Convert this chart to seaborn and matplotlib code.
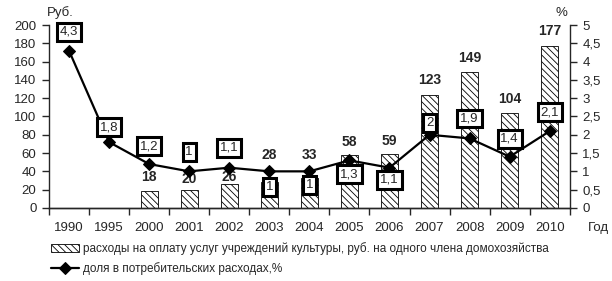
import matplotlib
matplotlib.use("Agg")
import matplotlib.pyplot as plt
import numpy as np
import pandas as pd
import seaborn as sns

years = ["1990", "1995", "2000", "2001", "2002", "2003", "2004",
         "2005", "2006", "2007", "2008", "2009", "2010"]
spend = [np.nan, np.nan, 18, 20, 26, 28, 33, 58, 59, 123, 149, 104, 177]
share = [4.3, 1.8, 1.2, 1.0, 1.1, 1.0, 1.0, 1.3, 1.1, 2.0, 1.9, 1.4, 2.1]
share_txt = ["4,3", "1,8", "1,2", "1", "1,1", "1", "1", "1,3", "1,1",
             "2", "1,9", "1,4", "2,1"]

bar_name = "расходы на оплату услуг учреждений культуры, руб. на одного члена домохозяйства"
line_name = "доля в потребительских расходах,%"

# label offsets in pixels (up +, down -)
lab_dy = [19, 15, 18, 19, 20, -16, -14, -14, -12, 12, 20, 18, 19]
bar_dy = [0, 0, 14, 11, 7, 27, 23, 13, 13, 15, 14, 14, 15]

sns.set_style("white")
plt.rcParams["font.family"] = ["Liberation Sans", "DejaVu Sans"]
plt.rcParams["hatch.linewidth"] = 0.6

df = pd.DataFrame({"year": years, "spend": spend, "share": share})
pos = np.arange(len(years))

fig = plt.figure(figsize=(6.12, 2.81), dpi=100)
ax = fig.add_axes([0.080, 0.26, 0.851, 0.651])

sns.barplot(data=df, x="year", y="spend", order=years, color="white",
            width=0.43, edgecolor="black", linewidth=0.6, hatch="\\\\\\\\\\",
            ax=ax, label=bar_name)

ax.set_ylim(0, 200)
ax.set_yticks(np.arange(0, 201, 20))
ax.set_xlim(-0.5, len(years) - 0.5)
ax.set_xlabel("")
ax.set_ylabel("")
ax.set_xticks(pos)
ax.set_xticks(np.arange(-0.5, len(years), 1), minor=True)
ax.tick_params(axis="x", which="major", length=0, labelsize=9.5, pad=10)
ax.tick_params(axis="x", which="minor", length=5, width=1, direction="out", bottom=True)
ax.tick_params(axis="y", length=5, width=1, direction="out", left=True, labelsize=9.5, pad=4)
ax.spines["top"].set_visible(False)
ax.spines["right"].set_visible(False)

ax2 = ax.twinx()
sns.lineplot(x=pos, y=share, ax=ax2, color="black", linewidth=1.6,
             marker="D", markersize=6, markeredgecolor="black", label=line_name)
ax2.set_ylim(0, 5)
ax2.set_yticks(np.arange(0, 5.01, 0.5))
ax2.set_yticklabels([f"{t:g}".replace(".", ",") for t in np.arange(0, 5.01, 0.5)])
ax2.tick_params(axis="y", length=5, width=1, direction="out", right=True, labelsize=9.5, pad=4)
ax2.spines["top"].set_visible(False)
ax2.spines["left"].set_visible(False)
for s in ["left", "bottom", "right"]:
    ax.spines[s].set_linewidth(1)
    ax2.spines[s].set_linewidth(1)
ax2.set_xlim(-0.5, len(years) - 0.5)

# bar value labels, drawn in data coords of the left axis but on top
for i, v in enumerate(spend):
    if not np.isnan(v):
        xy = ax2.transData.inverted().transform(ax.transData.transform((pos[i], v)))
        ax2.annotate(f"{v:g}", xy, xytext=(0, bar_dy[i]), textcoords="offset pixels",
                     ha="center", va="center", fontsize=10, fontweight="bold", zorder=1)

for i, t in enumerate(share_txt):
    ax2.annotate(t, (pos[i], share[i]), xytext=(0, lab_dy[i]), textcoords="offset pixels",
                 ha="center", va="center", fontsize=9.5, zorder=5,
                 bbox=dict(boxstyle="square,pad=0.22", fc="white", ec="black", lw=2.2))

fig.text(0.077, 0.955, "Руб.", ha="left", va="center", fontsize=9.5)
fig.text(0.907, 0.955, "%", ha="left", va="center", fontsize=9.5)
fig.text(0.96, 0.19, "Год", ha="left", va="center", fontsize=9.5)

h1, l1 = ax.get_legend_handles_labels()
h2, l2 = ax2.get_legend_handles_labels()
for a in (ax, ax2):
    if a.get_legend():
        a.get_legend().remove()
fig.legend(h1 + h2, l1 + l2, loc="upper left", bbox_to_anchor=(0.083, 0.138),
           frameon=False, fontsize=8.5, handlelength=2.4, handleheight=0.6,
           handletextpad=0.35, labelspacing=0.6, borderaxespad=0, borderpad=0)

fig.savefig("out.png", dpi=100)
